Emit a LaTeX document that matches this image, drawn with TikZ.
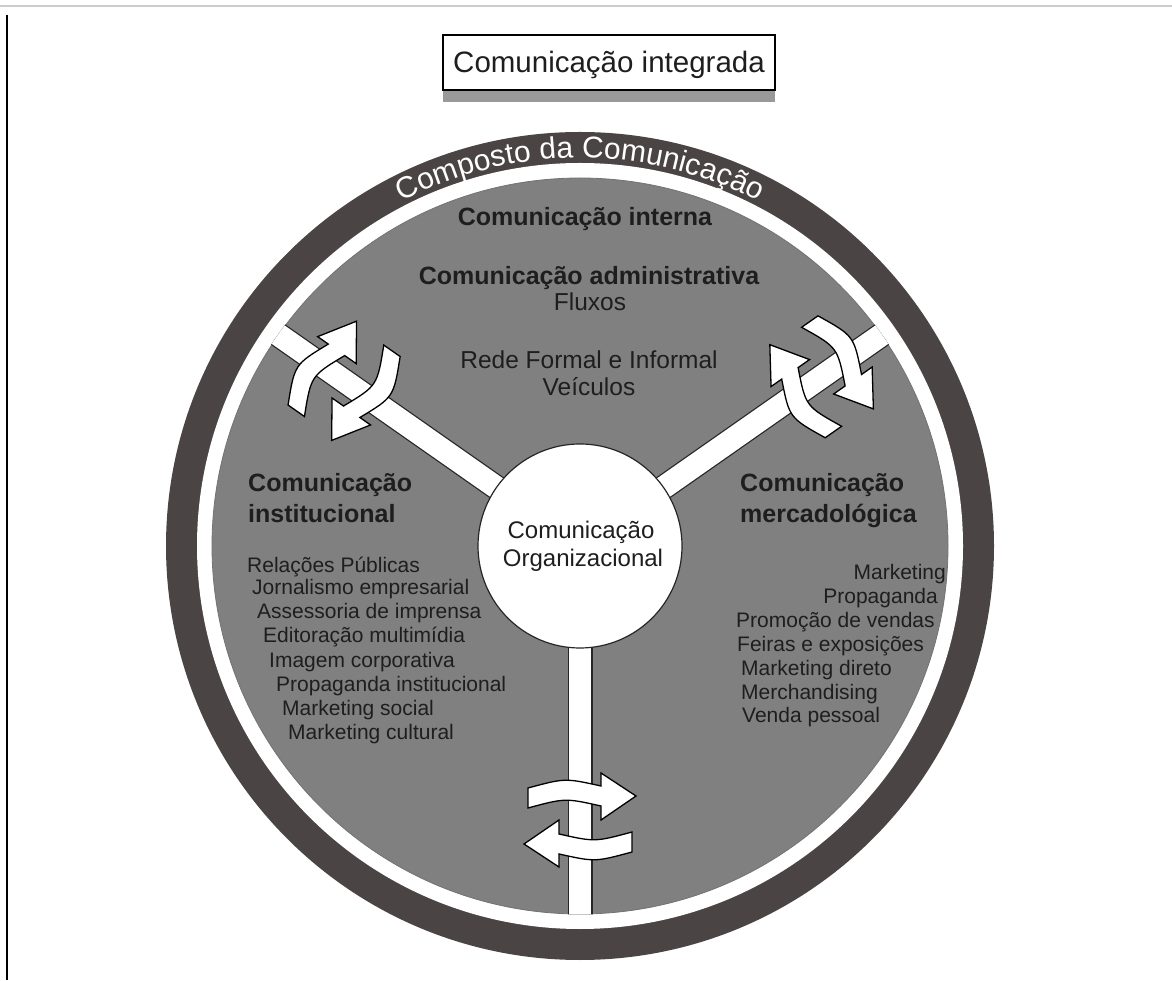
\documentclass[tikz,border=0pt]{standalone}
\usepackage{fontspec}
\setmainfont{Liberation Sans}
\usetikzlibrary{decorations.text}
\definecolor{ringdark}{HTML}{4B4445}
\definecolor{discgray}{HTML}{808080}
\definecolor{txt}{HTML}{1E1E1E}
\tikzset{
  bighead/.style={font=\fontsize{25}{30}\selectfont\bfseries, text=txt, inner sep=0},
  midtext/.style={font=\fontsize{24.5}{30}\selectfont, text=txt, inner sep=0},
  listitem/.style={font=\fontsize{21}{24}\selectfont, text=txt, inner sep=0},
  turnarrow/.style={fill=white, draw=black, line width=1.3, line join=miter},
}
\begin{document}
\begin{tikzpicture}[x=1pt,y=1pt]
\useasboundingbox (0,0) rectangle (1172,980);
% page frame lines
\coordinate (tl) at (0,974);
\coordinate (tr) at (1172,974);
\draw[black!20, line width=1.5] (tl) -- (tr);
\coordinate (lt) at (7,965);
\coordinate (lb) at (7,0);
\draw[black, line width=2] (lt) -- (lb);
% title
\fill[black!40] (443,878) rectangle (775,890);
\node[draw=black, line width=1.5, fill=white, minimum width=332, minimum height=55, inner sep=0] (title) at (609,917.5) {};
\node[anchor=base, font=\fontsize{29.5}{32}\selectfont, text=txt, inner sep=0] (titletext) at (609,907) {Comunicação integrada};
% circles
\coordinate (C) at (580,434);
\fill[ringdark] (C) circle[radius=414];
\fill[white] (C) circle[radius=383];
\fill[discgray] (C) circle[radius=368];
\draw[black!55, line width=0.8] (C) circle[radius=368];
\path[shift={(580,434)}, decorate, decoration={text along path, text align=center,
  text={|\color{white}\fontsize{30}{32}\selectfont|Composto da Comunicação}}]
  (128:388) arc[start angle=128, end angle=52, radius=388];
% spokes
\begin{scope}
\clip (C) circle[radius=368.6];
\foreach \a in {145,35,270} \draw[line width=25, black!85] (C) -- ++(\a:420);
\foreach \a in {145,35,270} \draw[line width=22.5, white] (C) -- ++(\a:420);
\end{scope}
\node[circle, draw=black!85, line width=1.2, fill=white, minimum size=204, inner sep=0] (org) at (C) {};
\node[anchor=base, midtext, font=\fontsize{24}{28}\selectfont] (org1) at (581,441) {Comunicação};
\node[anchor=base, midtext, font=\fontsize{24}{28}\selectfont] (org2) at (583,413) {Organizacional};
% turning arrows
\foreach \px/\py/\rot/\bend in {580/160/0/0, 344.1/599.2/-125/8, 821.6/603.2/125/8} {
  \begin{scope}[shift={(\px,\py)}, rotate=\rot]
    \path[turnarrow] (-52,12) .. controls (-15,22+\bend) .. (21,14) -- (21,0) -- (56,24) -- (21,47) -- (21,34) .. controls (-15,42+\bend) .. (-52,32) -- cycle;
    \path[turnarrow, rotate=180] (-52,12) .. controls (-15,22+\bend) .. (21,14) -- (21,0) -- (56,24) -- (21,47) -- (21,34) .. controls (-15,42+\bend) .. (-52,32) -- cycle;
  \end{scope}
}
% top texts
\node[anchor=base, bighead] (interna) at (585,754) {Comunicação interna};
\node[anchor=base, bighead] (admin) at (589,695) {Comunicação administrativa};
\node[anchor=base, midtext] (fluxos) at (590,669) {Fluxos};
\node[anchor=base, midtext] (rede) at (589,611) {Rede Formal e Informal};
\node[anchor=base, midtext] (veic) at (589,584) {Veículos};
% headings
\node[anchor=base west, bighead] (inst1) at (248,488) {Comunicação};
\node[anchor=base west, bighead] (inst2) at (248,457) {institucional};
\node[anchor=base west, bighead] (merc1) at (740,488) {Comunicação};
\node[anchor=base west, bighead] (merc2) at (740,457) {mercadológica};
% left list
\node[anchor=base west, listitem] (l1) at (247,407) {Relações Públicas};
\node[anchor=base west, listitem] (l2) at (252,385) {Jornalismo empresarial};
\node[anchor=base west, listitem] (l3) at (257,361) {Assessoria de imprensa};
\node[anchor=base west, listitem] (l4) at (263,337) {Editoração multimídia};
\node[anchor=base west, listitem] (l5) at (269,312) {Imagem corporativa};
\node[anchor=base west, listitem] (l6) at (276,288) {Propaganda institucional};
\node[anchor=base west, listitem] (l7) at (282,264) {Marketing social};
\node[anchor=base west, listitem] (l8) at (288,240) {Marketing cultural};
% right list
\node[anchor=base east, listitem] (r1) at (946,400) {Marketing};
\node[anchor=base east, listitem] (r2) at (938,376) {Propaganda};
\node[anchor=base west, listitem] (r3) at (736,352) {Promoção de vendas};
\node[anchor=base west, listitem] (r4) at (737,328) {Feiras e exposições};
\node[anchor=base west, listitem] (r5) at (741,304) {Marketing direto};
\node[anchor=base west, listitem] (r6) at (741,280) {Merchandising};
\node[anchor=base west, listitem] (r7) at (742,257) {Venda pessoal};
\end{tikzpicture}
\end{document}
